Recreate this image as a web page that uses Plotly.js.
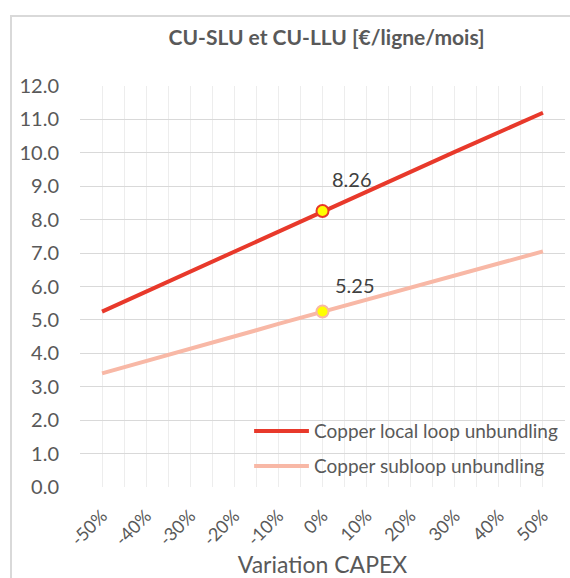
<!DOCTYPE html>
<html><head><meta charset="utf-8">
<script src="https://cdn.plot.ly/plotly-3.0.1.min.js"></script>
<style>body{margin:0;background:#fff;}#frame{position:absolute;left:10px;top:15px;width:570px;height:580px;border:2px solid #D9D9D9;box-sizing:border-box;pointer-events:none;}#chart{position:absolute;left:0;top:0;}</style>
</head><body>
<div id="chart"></div><div id="frame"></div>
<script>
var variation = [-50,-45,-40,-35,-30,-25,-20,-15,-10,-5,0,5,10,15,20,25,30,35,40,45,50];
var llu = [5.25,5.55,5.85,6.15,6.45,6.75,7.05,7.36,7.66,7.96,8.26,8.56,8.85,9.14,9.44,9.73,10.03,10.32,10.62,10.91,11.20];
var slu = [3.40,3.58,3.77,3.95,4.14,4.32,4.51,4.69,4.88,5.06,5.25,5.43,5.61,5.79,5.97,6.15,6.33,6.51,6.69,6.87,7.05];
var seriesNames = ['Copper local loop unbundling', 'Copper subloop unbundling'];
var gridVals = [-55,-50,-45,-40,-35,-30,-25,-20,-15,-10,-5,0,5,10,15,20,25,30,35,40,45,50,55];
var tickLabels = ['', '-50%','','-40%','','-30%','','-20%','','-10%','','0%','','10%','','20%','','30%','','40%','','50%',''];
var yTicks = [0,1,2,3,4,5,6,7,8,9,10,11,12];

var font = 'Lato, "Open Sans", sans-serif';
var red = '#E8392B', pink = '#F8B8A6';
var traces = [
  {x: variation, y: llu, type:'scatter', mode:'lines', name:seriesNames[0], line:{color:red, width:4}},
  {x: variation, y: slu, type:'scatter', mode:'lines', name:seriesNames[1], line:{color:pink, width:4}},
  {x: [variation[10]], y: [llu[10]], type:'scatter', mode:'markers',
   marker:{color:'#FFFF00', size:12, line:{color:red, width:2}}},
  {x: [variation[10]], y: [slu[10]], type:'scatter', mode:'markers',
   marker:{color:'#FFFF00', size:12, line:{color:pink, width:2}}}
];
var layout = {
  width:570, height:578,
  margin:{l:80, r:5, t:86, b:91},
  paper_bgcolor:'#fff', plot_bgcolor:'#fff',
  font:{family:font, color:'#595959'},
  showlegend:false,
  title:{text:'<b>CU-SLU et CU-LLU [€/ligne/mois]</b>', x:0.573, xanchor:'center', y:0.935, yanchor:'middle',
         font:{size:21, color:'#595959', family:font}},
  xaxis:{range:[-55,55], tickmode:'array', tickvals:gridVals, ticktext:tickLabels, tickangle:-45,
         showgrid:true, gridcolor:'#EDEDED', gridwidth:1, zeroline:false, showline:false, ticks:'',
         tickfont:{size:18, color:'#595959'}, ticklabelstandoff:14,
         title:{text:'Variation CAPEX', font:{size:23, color:'#595959'}, standoff:0}},
  yaxis:{range:[0,12], tickmode:'array', tickvals:yTicks, ticktext:yTicks.map(function(v){return v.toFixed(1);}),
         showgrid:true, gridcolor:'#D9D9D9', gridwidth:1, zeroline:false, showline:false, ticks:'',
         tickfont:{size:20, color:'#595959'}, ticklabelstandoff:20},
  shapes:[
    {type:'line', xref:'paper', yref:'paper', x0:0.359, x1:0.472, y0:0.1397, y1:0.1397, line:{color:red, width:4}},
    {type:'line', xref:'paper', yref:'paper', x0:0.359, x1:0.472, y0:0.0524, y1:0.0524, line:{color:pink, width:4}}
  ],
  annotations:[
    {x: variation[10], y: llu[10], text: llu[10].toFixed(2), showarrow:false, xshift:29, yshift:32,
     font:{size:20, color:'#404040'}},
    {x: variation[10], y: slu[10], text: slu[10].toFixed(2), showarrow:false, xshift:32, yshift:27,
     font:{size:20, color:'#404040'}},
    {xref:'paper', yref:'paper', x:0.478, y:0.1397, xanchor:'left', yanchor:'middle', showarrow:false,
     text:seriesNames[0], font:{size:19, color:'#595959'}},
    {xref:'paper', yref:'paper', x:0.478, y:0.0524, xanchor:'left', yanchor:'middle', showarrow:false,
     text:seriesNames[1], font:{size:19, color:'#595959'}}
  ]
};
Plotly.newPlot('chart', traces, layout, {displayModeBar:false, staticPlot:true});
</script>
</body></html>
